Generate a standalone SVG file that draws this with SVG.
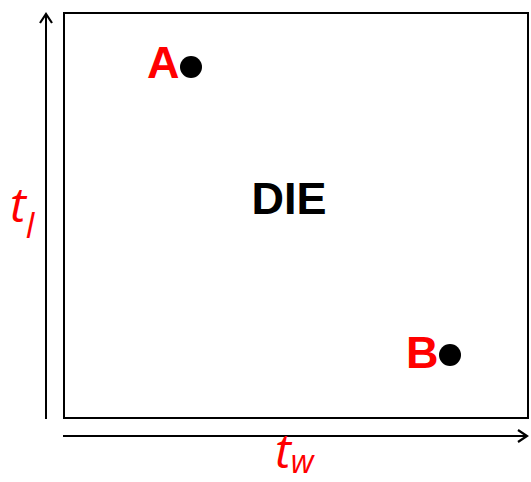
<svg xmlns="http://www.w3.org/2000/svg" width="531" height="482" viewBox="0 0 531 482">
<style>
.ax{stroke:#000;stroke-width:2;fill:none}
.lbl{font-family:"Liberation Sans",Arial,sans-serif;font-weight:bold;fill:#ff0000;font-size:45px}
.t{font-family:"Open Sans","DejaVu Sans",sans-serif;font-style:italic;fill:#ff0000}
</style>
<defs>
<marker id="arr" markerWidth="14" markerHeight="14" refX="11" refY="7" orient="auto" markerUnits="userSpaceOnUse">
<path d="M2,1 L11,7 L2,13" fill="none" stroke="#000" stroke-width="2.2"/>
</marker>
</defs>
<rect width="531" height="482" fill="#fff"/>
<g id="connectors">
<line class="ax" x1="46" y1="419" x2="46" y2="14" marker-end="url(#arr)"/>
<line class="ax" x1="63" y1="436" x2="527" y2="436" marker-end="url(#arr)"/>
</g>
<g id="die">
<rect x="64" y="13" width="464" height="405" class="ax"/>
<text x="289" y="214" font-family="Liberation Sans,Arial,sans-serif" font-weight="bold" font-size="45" text-anchor="middle">DIE</text>
</g>
<g id="A">
<text class="lbl" x="147" y="78">A</text>
<circle cx="191" cy="67" r="11" fill="#000"/>
</g>
<g id="B">
<text class="lbl" x="406" y="368">B</text>
<circle cx="450" cy="355" r="11" fill="#000"/>
</g>
<g id="tl">
<text class="t" x="10" y="222" font-size="48">t<tspan font-size="34" dy="16">l</tspan></text>
</g>
<g id="tw">
<text class="t" x="275" y="468" font-size="48">t<tspan font-size="32" dy="5">w</tspan></text>
</g>
</svg>
